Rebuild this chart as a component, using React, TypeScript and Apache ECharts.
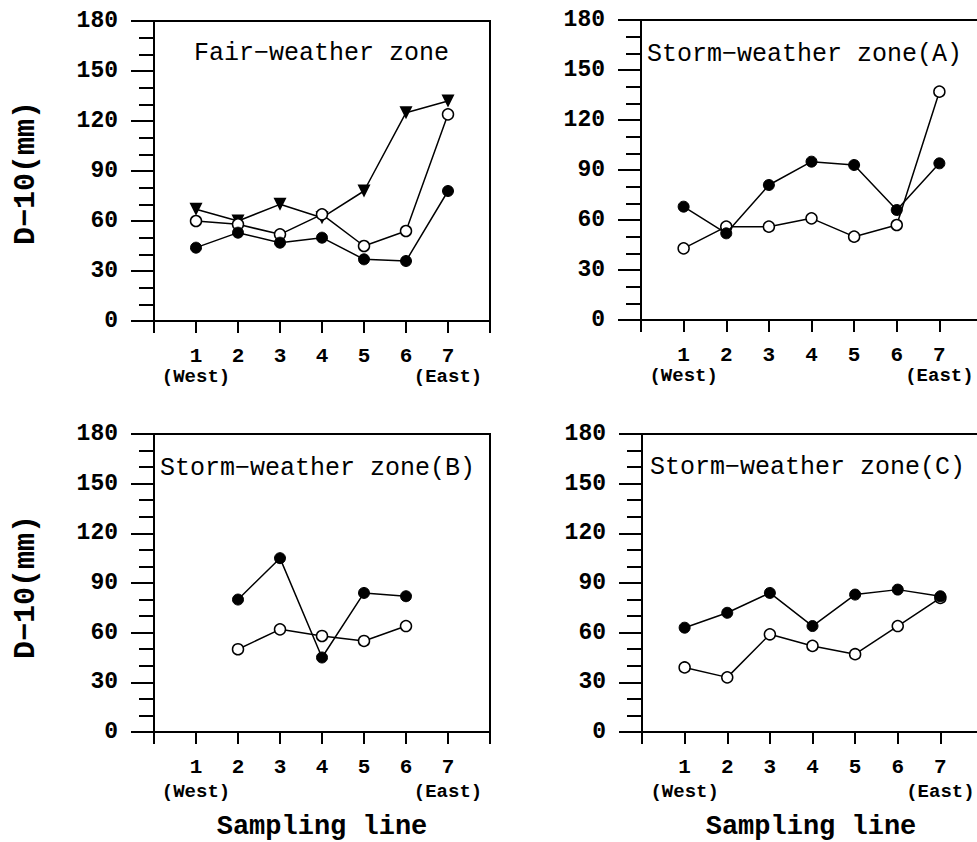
import React, { useEffect, useRef } from "react";
import * as echarts from "echarts";

// ---- data ----
const samplingLines = [1, 2, 3, 4, 5, 6, 7];
const samplingLinesB = [2, 3, 4, 5, 6];

const panelTitles = [
  "Fair−weather zone",
  "Storm−weather zone(A)",
  "Storm−weather zone(B)",
  "Storm−weather zone(C)",
];

const fairFilled = [44, 53, 47, 50, 37, 36, 78];
const fairOpen = [60, 58, 52, 64, 45, 54, 124];
const fairTriangle = [67, 60, 70, 62, 78, 125, 132];

const stormAFilled = [68, 52, 81, 95, 93, 66, 94];
const stormAOpen = [43, 56, 56, 61, 50, 57, 137];

const stormBFilled = [80, 105, 45, 84, 82];
const stormBOpen = [50, 62, 58, 55, 64];

const stormCFilled = [63, 72, 84, 64, 83, 86, 82];
const stormCOpen = [39, 33, 59, 52, 47, 64, 81];

const yAxisName = "D−10(mm)";
const xAxisName = "Sampling line";
const westLabel = "(West)";
const eastLabel = "(East)";

// ---- helpers ----
const MONO = '"Liberation Mono", "Courier New", monospace';
const zip = (xs: number[], ys: number[]) => xs.map((x, i) => [x, ys[i]]);

export default function App() {
  const ref = useRef<HTMLDivElement>(null);

  useEffect(() => {
    if (!ref.current) return;
    const chart = echarts.init(ref.current, undefined, { renderer: "svg" });

    const grids = [
      { left: 154, top: 21, width: 336, height: 300 },
      { left: 641, top: 20, width: 341, height: 300 },
      { left: 154, top: 434, width: 336, height: 298 },
      { left: 642, top: 434, width: 341, height: 298 },
    ];
    const subLineHeights = [20, 20, 27, 27];

    const xAxes = grids.map((_, i) => ({
      type: "value",
      gridIndex: i,
      min: 0,
      max: 8,
      interval: 1,
      position: "bottom",
      axisLine: { show: true, lineStyle: { color: "#000", width: 2 } },
      axisTick: { show: true, inside: false, length: 12, lineStyle: { color: "#000", width: 2 } },
      splitLine: { show: false },
      axisLabel: {
        margin: 24,
        showMinLabel: true,
        showMaxLabel: true,
        hideOverlap: false,
        formatter: (v: number) => {
          if (v < 1 || v > 7) return "";
          if (v === 1) return `{n|${v}}\n{s|${westLabel}}`;
          if (v === 7) return `{n|${v}}\n{s|${eastLabel}}`;
          return `{n|${v}}`;
        },
        rich: {
          n: { fontFamily: MONO, fontWeight: "bold", fontSize: 21, color: "#000", lineHeight: 22 },
          s: { fontFamily: MONO, fontWeight: "bold", fontSize: 19, color: "#000", lineHeight: subLineHeights[i] },
        },
      },
    }));

    const yAxes = grids.map((_, i) => ({
      type: "value",
      gridIndex: i,
      min: 0,
      max: 180,
      interval: 30,
      axisLine: { show: true, lineStyle: { color: "#000", width: 2 } },
      axisTick: { show: true, inside: false, length: 23, lineStyle: { color: "#000", width: 2 } },
      minorTick: { show: true, splitNumber: 3, length: 15, lineStyle: { color: "#000", width: 2 } },
      splitLine: { show: false },
      minorSplitLine: { show: false },
      axisLabel: {
        margin: 36,
        fontFamily: MONO,
        fontWeight: "bold",
        fontSize: 23,
        color: "#000",
      },
    }));

    const lineStyle = { color: "#000", width: 1.5 };
    const filled = (name: string, idx: number, data: number[][]) => ({
      name,
      type: "line",
      xAxisIndex: idx,
      yAxisIndex: idx,
      data,
      symbol: "circle",
      symbolSize: 11,
      z: 4,
      lineStyle,
      itemStyle: { color: "#000", borderColor: "#000", borderWidth: 1 },
    });
    const open = (name: string, idx: number, data: number[][]) => ({
      name,
      type: "line",
      xAxisIndex: idx,
      yAxisIndex: idx,
      data,
      symbol: "circle",
      symbolSize: 11,
      showAllSymbol: true,
      z: 3,
      lineStyle,
      itemStyle: { color: "#fff", borderColor: "#000", borderWidth: 1.5 },
    });
    const tri = (name: string, idx: number, data: number[][]) => ({
      name,
      type: "line",
      xAxisIndex: idx,
      yAxisIndex: idx,
      data,
      symbol: "triangle",
      symbolRotate: 180,
      symbolSize: 13,
      z: 2,
      lineStyle,
      itemStyle: { color: "#000" },
    });

    const series = [
      tri("Fair triangle", 0, zip(samplingLines, fairTriangle)),
      open("Fair open", 0, zip(samplingLines, fairOpen)),
      filled("Fair filled", 0, zip(samplingLines, fairFilled)),
      open("A open", 1, zip(samplingLines, stormAOpen)),
      filled("A filled", 1, zip(samplingLines, stormAFilled)),
      open("B open", 2, zip(samplingLinesB, stormBOpen)),
      filled("B filled", 2, zip(samplingLinesB, stormBFilled)),
      open("C open", 3, zip(samplingLines, stormCOpen)),
      filled("C filled", 3, zip(samplingLines, stormCFilled)),
    ];

    const textEl = (
      text: string,
      x: number,
      y: number,
      size: number,
      weight: string,
      align: string,
      rotation = 0
    ) => ({
      type: "text",
      x,
      y,
      rotation,
      z: 10,
      style: {
        text,
        fill: "#000",
        fontFamily: MONO,
        fontSize: size,
        fontWeight: weight,
        align,
        textAlign: align,
        verticalAlign: "middle",
        textVerticalAlign: "middle",
      },
    });

    const titlePos = [
      [194, 53],
      [647, 54],
      [160, 468],
      [650, 467],
    ];

    const graphic = [
      ...panelTitles.map((t, i) => textEl(t, titlePos[i][0], titlePos[i][1], 25, "normal", "left")),
      textEl(yAxisName, 26, 173, 30, "bold", "center", Math.PI / 2),
      textEl(yAxisName, 26, 587, 30, "bold", "center", Math.PI / 2),
      textEl(xAxisName, 322, 827, 27, "bold", "center"),
      textEl(xAxisName, 811, 827, 27, "bold", "center"),
    ];

    chart.setOption({
      animation: false,
      backgroundColor: "#fff",
      grid: grids.map((g) => ({
        ...g,
        show: true,
        borderColor: "#000",
        borderWidth: 2,
        backgroundColor: "transparent",
        containLabel: false,
        outerBoundsMode: "none",
      })),
      xAxis: xAxes,
      yAxis: yAxes,
      series,
      graphic,
    });

    return () => chart.dispose();
  }, []);

  return (
    <div
      ref={ref}
      style={{ position: "absolute", left: 0, top: 0, width: 977, height: 842, background: "#fff" }}
    />
  );
}
